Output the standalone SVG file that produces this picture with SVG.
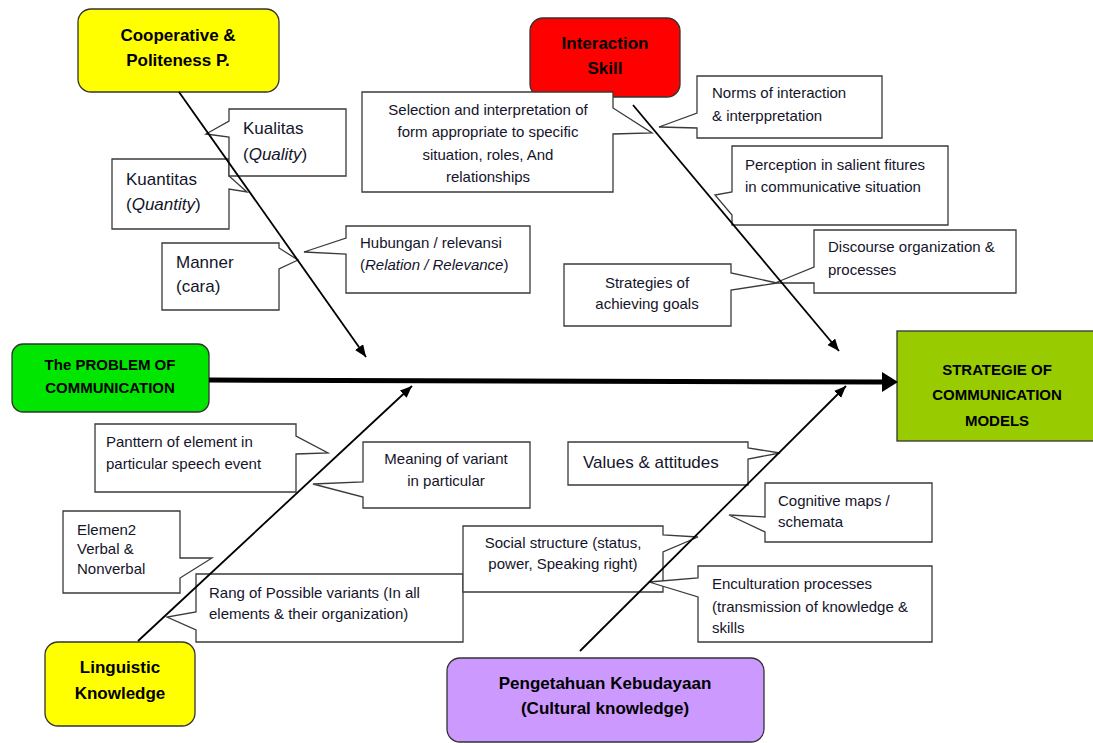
<svg xmlns="http://www.w3.org/2000/svg" width="1093" height="743" viewBox="0 0 1093 743">
<style>
text{font-family:"Liberation Sans",Arial,sans-serif;fill:#14142a}
.t{font-size:15px}
.tl{font-size:17px}
.h{font-size:17px;font-weight:bold;fill:#000;text-anchor:middle}
.hs{font-size:15px;font-weight:bold;fill:#000;text-anchor:middle}
.c{text-anchor:middle}
.co{fill:#fff;stroke:#3a3a3a;stroke-width:1.3}
.nd{stroke:#333;stroke-width:1.3}
.ln{stroke:#000;stroke-width:1.8;fill:none}
</style>
<defs>
<marker id="ah" markerUnits="userSpaceOnUse" markerWidth="14" markerHeight="12" refX="12" refY="5" orient="auto">
<path d="M0,0 L12,5 L0,10 Z" fill="#000"/>
</marker>
</defs>

<g id="cooperative"><rect class="nd" x="78" y="9" width="201" height="83" rx="13" fill="#FFFF00"/>
<text class="h" x="178" y="41">Cooperative &amp;</text><text class="h" x="178" y="66">Politeness P.</text></g>

<g id="interaction"><rect class="nd" x="530" y="18" width="150" height="79" rx="13" fill="#FF0000"/>
<text class="h" x="605" y="49">Interaction</text><text class="h" x="605" y="74">Skill</text></g>

<g id="problem"><rect class="nd" x="12" y="344" width="197" height="68" rx="11" fill="#00E600"/>
<text class="hs" x="110" y="370">The PROBLEM OF</text><text class="hs" x="110" y="393">COMMUNICATION</text></g>

<g id="strategie"><rect class="nd" x="897" y="331" width="200" height="110" fill="#99CC00"/>
<text class="hs" x="997" y="375">STRATEGIE OF</text><text class="hs" x="997" y="400">COMMUNICATION</text><text class="hs" x="997" y="426">MODELS</text></g>

<g id="linguistic"><rect class="nd" x="45" y="642" width="150" height="84" rx="13" fill="#FFFF00"/>
<text class="h" x="120" y="673">Linguistic</text><text class="h" x="120" y="699">Knowledge</text></g>

<g id="cultural"><rect class="nd" x="447" y="658" width="317" height="84" rx="13" fill="#CC99FF"/>
<text class="h" x="605" y="689">Pengetahuan Kebudayaan</text><text class="h" x="605" y="714">(Cultural knowledge)</text></g>

<g id="kuantitas"><path class="co" d="M112,159 H229 V176 L247,192 L229,189 V229 H112 Z"/>
<text class="tl" x="126" y="185">Kuantitas</text><text class="tl" x="126" y="210">(<tspan font-style="italic">Quantity</tspan>)</text></g>

<g id="kualitas"><path class="co" d="M229,109 H346 V176 H229 V137 L206,134 L229,121 Z"/>
<text class="tl" x="243" y="134">Kualitas</text><text class="tl" x="243" y="160">(<tspan font-style="italic">Quality</tspan>)</text></g>

<g id="manner"><path class="co" d="M162,243 H279 V248 L298,260 L279,269 V310 H162 Z"/>
<text class="tl" x="176" y="268">Manner</text><text class="tl" x="176" y="292">(cara)</text></g>

<g id="hubungan"><path class="co" d="M346,226 H530 V293 H346 V254 L304,252 L346,238 Z"/>
<text class="t" x="360" y="248">Hubungan / relevansi</text><text class="t" x="360" y="270">(<tspan font-style="italic">Relation / Relevance</tspan>)</text></g>

<g id="selection"><path class="co" d="M362,92 H613 V108 L652,133 L613,134 V192 H362 Z"/>
<text class="t c" x="488" y="115">Selection and interpretation of</text><text class="t c" x="488" y="137">form appropriate to specific</text><text class="t c" x="488" y="160">situation, roles, And</text><text class="t c" x="488" y="182">relationships</text></g>

<g id="norms"><path class="co" d="M697,76 H882 V138 H697 V128 L659,127 L697,113 Z"/>
<text class="t" x="712" y="98">Norms of interaction</text><text class="t" x="712" y="121">&amp; interppretation</text></g>

<g id="perception"><path class="co" d="M732,146 H948 V225 H732 V215 L715,195 L732,192 Z"/>
<text class="t" x="745" y="170">Perception in salient fitures</text><text class="t" x="745" y="192">in communicative situation</text></g>

<g id="discourse"><path class="co" d="M814,230 H1016 V293 H814 V283 L775,283 L814,267 Z"/>
<text class="t" x="828" y="252">Discourse organization &amp;</text><text class="t" x="828" y="275">processes</text></g>

<g id="strategies"><path class="co" d="M564,264 H731 V273 L777,283 L731,290 V326 H564 Z"/>
<text class="t c" x="647" y="288">Strategies of</text><text class="t c" x="647" y="309">achieving goals</text></g>

<g id="panttern"><path class="co" d="M95,424 H296 V436 L328,453 L296,454 V492 H95 Z"/>
<text class="t" x="106" y="447">Panttern of element in</text><text class="t" x="106" y="469">particular speech event</text></g>

<g id="meaning"><path class="co" d="M363,442 H530 V508 H363 V497 L313,484 L363,482 Z"/>
<text class="t c" x="446" y="464">Meaning of variant</text><text class="t c" x="446" y="486">in particular</text></g>

<g id="elemen2"><path class="co" d="M63,511 H180 V558 L212,558 L180,578 V593 H63 Z"/>
<text class="t" x="77" y="535">Elemen2</text><text class="t" x="77" y="554">Verbal &amp;</text><text class="t" x="77" y="574">Nonverbal</text></g>

<g id="rang"><path class="co" d="M196,574 H463 V642 H196 V630 L167,617 L196,612 Z"/>
<text class="t" x="209" y="598">Rang of Possible variants (In all</text><text class="t" x="209" y="619">elements &amp; their organization)</text></g>

<g id="values"><path class="co" d="M568,442 H748 V448 L780,453 L748,459 V485 H568 Z"/>
<text class="tl" x="583" y="468">Values &amp; attitudes</text></g>

<g id="cognitive"><path class="co" d="M765,483 H932 V542 H765 V532 L729,515 L765,517 Z"/>
<text class="t" x="778" y="506">Cognitive maps /</text><text class="t" x="778" y="527">schemata</text></g>

<g id="social"><path class="co" d="M463,526 H663 V535 L698,537 L663,552 V592 H463 Z"/>
<text class="t c" x="563" y="548">Social structure (status,</text><text class="t c" x="563" y="569">power, Speaking right)</text></g>

<g id="enculturation"><path class="co" d="M698,566 H932 V642 H698 V597 L649,582 L698,578 Z"/>
<text class="t" x="712" y="589">Enculturation processes</text><text class="t" x="712" y="612">(transmission of knowledge &amp;</text><text class="t" x="712" y="633">skills</text></g>

<g id="connectors">
<line x1="209" y1="380" x2="884" y2="382" stroke="#000" stroke-width="5"/>
<polygon points="882,372 898,382 882,392" fill="#000"/>
<line class="ln" x1="179" y1="92" x2="366" y2="357" marker-end="url(#ah)"/>
<line class="ln" x1="633" y1="105" x2="839" y2="351" marker-end="url(#ah)"/>
<line class="ln" x1="138" y1="641" x2="412" y2="386" marker-end="url(#ah)"/>
<line class="ln" x1="580" y1="651" x2="846" y2="386" marker-end="url(#ah)"/>
</g>
</svg>
